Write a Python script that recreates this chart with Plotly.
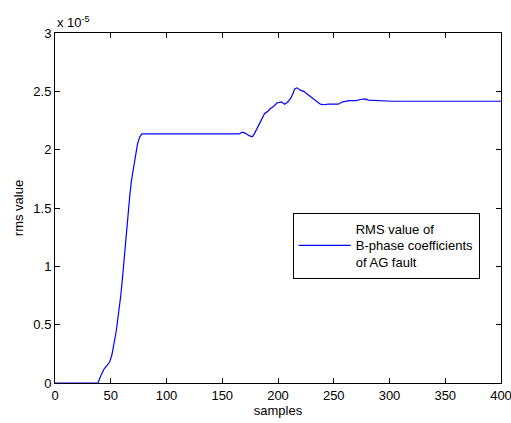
import plotly.graph_objects as go

samples = [0, 38.5, 41, 44, 47, 49, 51, 53, 55, 57, 58, 59, 61, 63, 65, 67, 68.5, 70, 72, 74, 76, 78,
           80, 165, 168, 171, 174, 177, 179, 182, 185, 188, 191, 193, 196, 199, 203, 206, 209, 212,
           215, 217, 220, 223, 227, 231, 235, 238, 241, 245, 254, 258, 264, 270, 274, 278, 281,
           300, 302, 400]
rms_e5 = [0, 0, 0.06, 0.12, 0.155, 0.18, 0.24, 0.33, 0.45, 0.6, 0.66, 0.75, 0.95, 1.18, 1.4, 1.6,
          1.73, 1.82, 1.95, 2.05, 2.11, 2.135,
          2.135, 2.135, 2.15, 2.14, 2.12, 2.11, 2.14, 2.20, 2.26, 2.31, 2.33, 2.35, 2.37, 2.40, 2.41,
          2.39, 2.41, 2.45, 2.52, 2.53, 2.51, 2.50, 2.47, 2.44, 2.41, 2.39, 2.385, 2.39, 2.39, 2.41,
          2.42, 2.42, 2.43, 2.435, 2.425, 2.42, 2.415, 2.415]
rms = [v * 1e-5 for v in rms_e5]

x_ticks = [0, 50, 100, 150, 200, 250, 300, 350, 400]
y_tick_vals = [0, 0.5e-5, 1e-5, 1.5e-5, 2e-5, 2.5e-5, 3e-5]
y_tick_text = ["0", "0.5", "1", "1.5", "2", "2.5", "3"]

FONT = "Liberation Sans, Arial, sans-serif"

fig = go.Figure()
fig.add_trace(go.Scatter(
    x=samples, y=rms, mode="lines",
    line=dict(color="#0000ff", width=1.2),
    name="RMS value of<br>B-phase coefficients<br>of AG fault",
    showlegend=True,
))

axis_common = dict(
    showline=True, linecolor="black", linewidth=1, mirror="ticks",
    ticks="inside", ticklen=5, tickcolor="black", tickwidth=1,
    showgrid=False, zeroline=False, ticklabeloverflow="allow", automargin=False,
    tickfont=dict(family=FONT, size=13, color="black"),
)

fig.update_layout(
    width=511, height=423,
    margin=dict(l=55, r=10, t=33, b=40),
    paper_bgcolor="white", plot_bgcolor="white",
    font=dict(family=FONT, size=13, color="black"),
    xaxis=dict(range=[0, 400], tickvals=x_ticks,
               title=dict(text="samples", standoff=4, font=dict(family=FONT, size=13)),
               **axis_common),
    yaxis=dict(range=[0, 3e-5], tickvals=y_tick_vals, ticktext=y_tick_text,
               title=dict(text="rms value", standoff=6, font=dict(family=FONT, size=13)),
               **axis_common),
    legend=dict(x=0.533, y=0.487, xanchor="left", yanchor="top",
                itemwidth=52,
                bordercolor="black", borderwidth=1, bgcolor="white",
                font=dict(family=FONT, size=13, color="black")),
    annotations=[dict(text="x 10<sup>-5</sup>", xref="paper", yref="paper",
                      x=0, y=1, xanchor="left", yanchor="bottom", yshift=1,
                      showarrow=False, font=dict(family=FONT, size=13, color="black"))],
)

fig.write_html("out.html")
